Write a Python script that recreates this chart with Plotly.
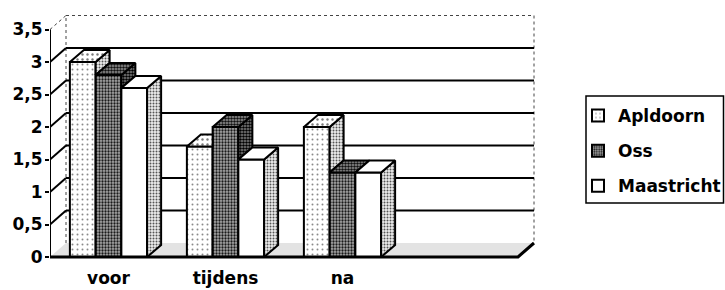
import plotly.graph_objects as go

# ---------------- data ----------------
categories = ["voor", "tijdens", "na"]
series_names = ["Apldoorn", "Oss", "Maastricht"]
apldoorn = [3.0, 1.7, 2.0]
oss = [2.8, 2.0, 1.3]
maastricht = [2.6, 1.5, 1.3]
y_tick_values = [0, 0.5, 1, 1.5, 2, 2.5, 3, 3.5]
y_tick_labels = ["0", "0,5", "1", "1,5", "2", "2,5", "3", "3,5"]
n_slots = 4  # the category axis has one empty slot after "na"

series_values = [apldoorn, oss, maastricht]

# ---------------- geometry (pixel -> data conversions) ----------------
W, H = 725, 290
L_PX, R_PX, T_PX, B_PX = 50, 540, 12, 260
X_MIN = -0.5
PX_PER_X = 117.0
PX_PER_Y = 65.0
X_MAX = X_MIN + (R_PX - L_PX) / PX_PER_X
Y_MIN = -(B_PX - 257) / PX_PER_Y
Y_MAX = Y_MIN + (B_PX - T_PX) / PX_PER_Y
WALL_DX, WALL_DY = 16 / PX_PER_X, 14 / PX_PER_Y
BAR_DX, BAR_DY = 14 / PX_PER_X, 12 / PX_PER_Y
GROUP_W = 0.66
BAR_W = GROUP_W / len(series_names)
X_END = n_slots - 0.5
TOP = y_tick_values[-1]

FONT = dict(family="DejaVu Sans", color="black", weight="bold")


def pat(bg, fg, size, solidity):
    if fg is None:
        return dict(shape="")
    return dict(shape=".", fgcolor=fg, bgcolor=bg, size=size, solidity=solidity, fillmode="replace")


front_style = [
    ("#ffffff", pat("#ffffff", "#8a8a8a", 5, 0.12)),
    ("#8c8c8c", pat("#a8a8a8", "#1a1a1a", 3, 0.45)),
    ("#ffffff", pat("#ffffff", None, 0, 0)),
]
top_style = [
    ("#f4f4f4", pat("#ffffff", "#7a7a7a", 5, 0.18)),
    ("#6e6e6e", pat("#9a9a9a", "#111111", 3, 0.55)),
    ("#ffffff", pat("#ffffff", None, 0, 0)),
]
side_style = [
    ("#cfcfcf", pat("#eeeeee", "#555555", 3, 0.35)),
    ("#5a5a5a", pat("#8a8a8a", "#000000", 3, 0.6)),
    ("#cfcfcf", pat("#eeeeee", "#555555", 3, 0.35)),
]

fig = go.Figure()

# front faces: real bar traces
xs = list(range(len(categories)))
for j, (name, vals) in enumerate(zip(series_names, series_values)):
    col, p = front_style[j]
    fig.add_trace(go.Bar(
        x=xs, y=vals, name=name, legendgroup=name,
        width=BAR_W, offset=-GROUP_W / 2 + j * BAR_W,
        marker=dict(color=col, pattern=p, line=dict(color="black", width=2)),
        hoverinfo="skip",
    ))


def poly(xp, yp, style):
    col, p = style
    kw = {}
    if p.get("shape"):
        kw["fillpattern"] = p
    fig.add_trace(go.Scatter(
        x=xp + [xp[0]], y=yp + [yp[0]], mode="lines", fill="toself",
        fillcolor=col, line=dict(color="black", width=2),
        showlegend=False, hoverinfo="skip", **kw,
    ))


# 3-D top and side faces derived from the same values
for i in range(len(categories)):
    for j in range(len(series_names)):
        h = series_values[j][i]
        x0 = i - GROUP_W / 2 + j * BAR_W
        x1 = x0 + BAR_W
        last = j == len(series_names) - 1
        h_next = None if last else series_values[j + 1][i]
        # side face
        if last:
            poly([x1, x1, x1 + BAR_DX, x1 + BAR_DX], [0, h, h + BAR_DY, BAR_DY], side_style[j])
        elif h > h_next:
            poly([x1, x1, x1 + BAR_DX, x1 + BAR_DX], [h_next, h, h + BAR_DY, h_next + BAR_DY], side_style[j])
        # top face
        if h_next is not None and h_next > h:
            poly([x0, x1, x1, x0 + BAR_DX], [h, h, h + BAR_DY, h + BAR_DY], top_style[j])
        else:
            poly([x0, x1, x1 + BAR_DX, x0 + BAR_DX], [h, h, h + BAR_DY, h + BAR_DY], top_style[j])

# ---------------- chart frame (floor, walls, gridlines) ----------------
shapes = []
shapes.append(dict(
    type="path", xref="x", yref="y", layer="below",
    path=f"M{X_MIN},0 L{X_END},0 L{X_END + WALL_DX},{WALL_DY} L{X_MIN + WALL_DX},{WALL_DY} Z",
    fillcolor="#e3e3e3", line=dict(width=0),
))
dot = dict(color="#444", width=1, dash="dot")
shapes += [
    dict(type="line", xref="x", yref="y", layer="below", x0=X_MIN + WALL_DX, y0=WALL_DY,
         x1=X_MIN + WALL_DX, y1=TOP + WALL_DY, line=dot),
    dict(type="line", xref="x", yref="y", layer="below", x0=X_MIN + WALL_DX, y0=TOP + WALL_DY,
         x1=X_END + WALL_DX, y1=TOP + WALL_DY, line=dot),
    dict(type="line", xref="x", yref="y", layer="below", x0=X_END + WALL_DX, y0=TOP + WALL_DY,
         x1=X_END + WALL_DX, y1=WALL_DY, line=dot),
    dict(type="line", xref="x", yref="y", layer="below", x0=X_MIN, y0=TOP,
         x1=X_MIN + WALL_DX, y1=TOP + WALL_DY, line=dot),
]
for v in y_tick_values[1:-1]:
    shapes.append(dict(type="line", xref="x", yref="y", layer="below",
                       x0=X_MIN + WALL_DX, y0=v + WALL_DY, x1=X_END + WALL_DX, y1=v + WALL_DY,
                       line=dict(color="black", width=2)))
    shapes.append(dict(type="line", xref="x", yref="y", layer="below",
                       x0=X_MIN, y0=v, x1=X_MIN + WALL_DX, y1=v + WALL_DY,
                       line=dict(color="black", width=2)))
# value axis line and floor front edge
shapes.append(dict(type="line", xref="x", yref="y", x0=X_MIN, y0=0, x1=X_MIN, y1=TOP,
                   line=dict(color="black", width=2)))
shapes.append(dict(type="path", xref="x", yref="y",
                   path=f"M{X_MIN},0 L{X_END},0 L{X_END + WALL_DX},{WALL_DY}",
                   line=dict(color="black", width=3)))


# legend frame
def pxx(p):
    return (p - L_PX) / (R_PX - L_PX)


def pxy(p):
    return (B_PX - p) / (B_PX - T_PX)


shapes.append(dict(type="rect", xref="paper", yref="paper",
                   x0=pxx(586), x1=pxx(723.5), y0=pxy(203), y1=pxy(96),
                   line=dict(color="black", width=1.5), fillcolor="rgba(0,0,0,0)"))

fig.update_layout(
    width=W, height=H,
    margin=dict(l=L_PX, r=W - R_PX, t=T_PX, b=H - B_PX, pad=0, autoexpand=False),
    paper_bgcolor="white", plot_bgcolor="white",
    barmode="overlay",
    shapes=shapes,
    showlegend=True,
    legend=dict(
        x=pxx(578), xanchor="left", y=pxy(98), yanchor="top",
        font=dict(size=17, **FONT), bgcolor="rgba(0,0,0,0)", borderwidth=0,
        tracegroupgap=10, traceorder="grouped", itemclick=False,
    ),
    xaxis=dict(
        range=[X_MIN, X_MAX], tickvals=xs, ticktext=categories,
        showgrid=False, zeroline=False, showline=False, ticks="",
        tickfont=dict(size=17, **FONT), ticklabelstandoff=6, automargin=False,
    ),
    yaxis=dict(
        range=[Y_MIN, Y_MAX], tickvals=y_tick_values, ticktext=y_tick_labels,
        showgrid=False, zeroline=False, showline=False,
        ticks="outside", ticklen=4, tickwidth=2, tickcolor="black",
        tickfont=dict(size=17, **FONT), ticklabelstandoff=-1, automargin=False,
    ),
)

# the page's default 8px body margin would shift the 725x290 figure out of the window
fig.write_html("out.html", config={"displayModeBar": False},
               post_script="document.body.style.margin='0';")
